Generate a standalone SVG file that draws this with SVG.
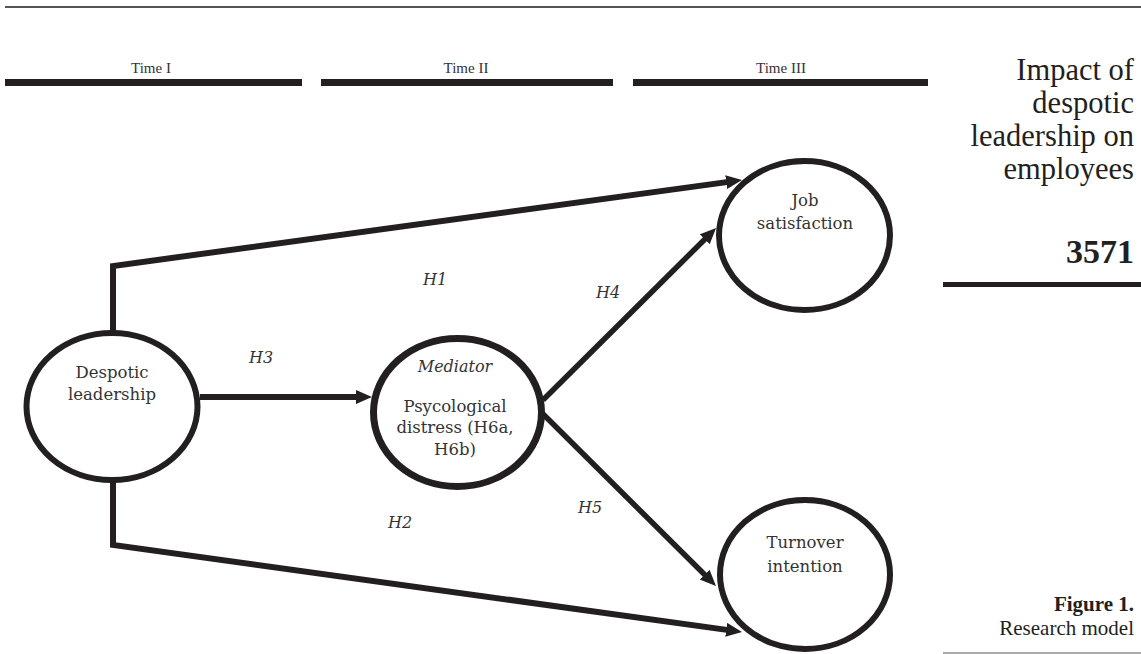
<svg xmlns="http://www.w3.org/2000/svg" width="1141" height="654" viewBox="0 0 1141 654">
<defs>
<marker id="ah" markerUnits="userSpaceOnUse" markerWidth="17" markerHeight="15" refX="8" refY="7" orient="auto">
<path d="M0,0 L16,7 L0,14 z" fill="#231f20"/>
</marker>
<style>
.node{fill:#fff;stroke:#231f20;stroke-width:6}
.nt{font-family:"DejaVu Serif",serif;font-size:16.5px;fill:#333;text-anchor:middle}
.it{font-family:"DejaVu Serif",serif;font-size:16px;font-style:italic;fill:#333;text-anchor:middle}
.conn{fill:none;stroke:#231f20;stroke-width:6;stroke-linejoin:miter}
.tl{font-family:"Liberation Serif",serif;font-size:15px;fill:#333;text-anchor:middle}
.hd{font-family:"Liberation Serif",serif;font-size:30.5px;fill:#231f20;text-anchor:end}
.bar{fill:#231f20}
</style>
</defs>
<rect x="0" y="0" width="1141" height="654" fill="#fff"/>
<line x1="5" y1="7" x2="1141" y2="7" stroke="#555" stroke-width="2"/>
<g id="timeline">
<text class="tl" x="151" y="73">Time I</text>
<text class="tl" x="466" y="73">Time II</text>
<text class="tl" x="781" y="73">Time III</text>
<rect class="bar" x="5" y="79" width="297" height="7"/>
<rect class="bar" x="321" y="79" width="292" height="7"/>
<rect class="bar" x="633" y="79" width="295" height="7"/>
</g>
<g id="header">
<text class="hd" x="1134" y="80">Impact of</text>
<text class="hd" x="1134" y="113">despotic</text>
<text class="hd" x="1134" y="146">leadership on</text>
<text class="hd" x="1134" y="179">employees</text>
<text x="1134" y="263" font-family="Liberation Serif, serif" font-size="34" font-weight="bold" fill="#231f20" text-anchor="end">3571</text>
<rect x="943" y="282" width="198" height="5" fill="#231f20"/>
<text x="1134" y="611" font-family="Liberation Serif, serif" font-size="21" font-weight="bold" fill="#231f20" text-anchor="end">Figure 1.</text>
<text x="1134" y="635" font-family="Liberation Serif, serif" font-size="21" fill="#231f20" text-anchor="end">Research model</text>
<line x1="943" y1="653" x2="1141" y2="653" stroke="#555" stroke-width="1.2"/>
</g>
<g id="connectors">
<polyline class="conn" points="113,333 113,266 734.1,181.1" marker-end="url(#ah)"/>
<polyline class="conn" points="113,480 113,545 734.1,630.9" marker-end="url(#ah)"/>
<line class="conn" x1="200" y1="397" x2="364" y2="397" marker-end="url(#ah)"/>
<line class="conn" style="stroke-width:5.5" x1="543" y1="400" x2="710.4" y2="233.7" marker-end="url(#ah)"/>
<line class="conn" style="stroke-width:5.5" x1="543" y1="414" x2="710.3" y2="580.3" marker-end="url(#ah)"/>
<text class="it" x="435" y="285">H1</text>
<text class="it" x="400" y="528">H2</text>
<text class="it" x="261" y="363">H3</text>
<text class="it" x="608" y="298">H4</text>
<text class="it" x="590" y="513">H5</text>
</g>
<g id="despotic">
<ellipse class="node" cx="112" cy="406.5" rx="85.5" ry="73.5"/>
<text class="nt" x="112" y="378">Despotic</text>
<text class="nt" x="112" y="400">leadership</text>
</g>
<g id="mediator">
<ellipse class="node" style="stroke-width:7" cx="457.5" cy="412.5" rx="84" ry="74"/>
<text class="it" x="455" y="372">Mediator</text>
<text class="nt" x="455" y="412">Psycological</text>
<text class="nt" x="455" y="433">distress (H6a,</text>
<text class="nt" x="455" y="455">H6b)</text>
</g>
<g id="job">
<ellipse class="node" cx="804.5" cy="235.5" rx="85.5" ry="74.5"/>
<text class="nt" x="805" y="206">Job</text>
<text class="nt" x="805" y="229">satisfaction</text>
</g>
<g id="turnover">
<ellipse class="node" cx="805" cy="574.5" rx="85" ry="74.5"/>
<text class="nt" x="805" y="548">Turnover</text>
<text class="nt" x="805" y="572">intention</text>
</g>
</svg>
